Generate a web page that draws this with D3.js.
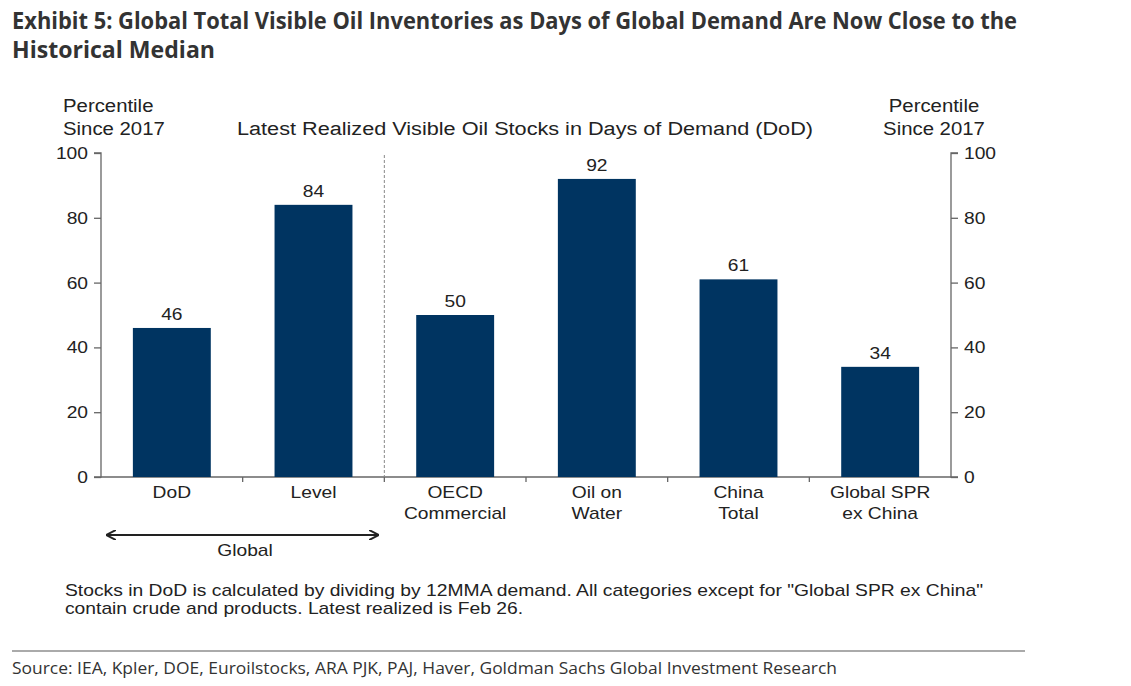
<!DOCTYPE html>
<html>
<head>
<meta charset="utf-8">
<script src="https://cdn.jsdelivr.net/npm/d3@7"></script>
<style>
  body { margin: 0; background: #fff; }
  text { font-family: "Liberation Sans", Arial, sans-serif; fill: #222; }
  .title, .source { font-family: "Open Sans", "Noto Sans", sans-serif; }
</style>
</head>
<body>
<div id="chart"></div>
<script>
// data
const categories = ["DoD", "Level", "OECD\nCommercial", "Oil on\nWater", "China\nTotal", "Global SPR\nex China"];
const values = [46, 84, 50, 92, 61, 34];
const yTicks = [0, 20, 40, 60, 80, 100];

const width = 1131;
const height = 686;
const margin = { top: 153, right: 180, bottom: 209, left: 101 };
const innerW = width - margin.left - margin.right;
const innerH = height - margin.top - margin.bottom;
const STRETCH = 1.13; // reference text is a bit wider than Liberation Sans

const svg = d3.select("#chart")
  .append("svg")
  .attr("width", width)
  .attr("height", height);

// Title
svg.append("text").attr("class", "title")
  .attr("x", 12).attr("y", 29)
  .attr("font-size", 22.5).attr("font-weight", 700)
  .attr("textLength", 1005).attr("lengthAdjust", "spacingAndGlyphs")
  .style("fill", "#333")
  .text("Exhibit 5: Global Total Visible Oil Inventories as Days of Global Demand Are Now Close to the");
svg.append("text").attr("class", "title")
  .attr("x", 12).attr("y", 58)
  .attr("font-size", 22.5).attr("font-weight", 700)
  .attr("textLength", 203).attr("lengthAdjust", "spacingAndGlyphs")
  .style("fill", "#333")
  .text("Historical Median");

const g = svg.append("g")
  .attr("transform", `translate(${margin.left},${margin.top})`);

const x = d3.scaleBand()
  .domain(categories)
  .range([0, innerW])
  .paddingInner(0.45)
  .paddingOuter(0.225);

const y = d3.scaleLinear()
  .domain([0, 100])
  .range([innerH, 0]);

// Left axis
const yLeft = g.append("g")
  .call(d3.axisLeft(y).tickValues(yTicks).tickSize(7).tickPadding(6));
// Right axis
const yRight = g.append("g")
  .attr("transform", `translate(${innerW},0)`)
  .call(d3.axisRight(y).tickValues(yTicks).tickSize(7).tickPadding(6));

[yLeft, yRight].forEach(a => {
  a.select(".domain").attr("stroke", "#666").attr("stroke-width", 1.3);
  a.selectAll(".tick line").attr("stroke", "#666").attr("stroke-width", 1.3);
  a.selectAll(".tick text")
    .attr("font-size", 17)
    .attr("font-family", "Liberation Sans, Arial, sans-serif")
    .attr("fill", "#222")
    .classed("st", true);
});
yLeft.select(".domain").attr("d", `M-7,0H0V${innerH}H-7`);
yRight.select(".domain").attr("d", `M7,0H0V${innerH}H7`);

// Bottom axis line with ticks between categories
const gap = x.step() - x.bandwidth();
g.append("line")
  .attr("x1", 0).attr("x2", innerW)
  .attr("y1", innerH).attr("y2", innerH)
  .attr("stroke", "#666").attr("stroke-width", 1.3);
g.selectAll(".sep-tick")
  .data(categories.slice(1))
  .enter().append("line")
  .attr("x1", d => x(d) - gap / 2)
  .attr("x2", d => x(d) - gap / 2)
  .attr("y1", innerH).attr("y2", innerH + 5)
  .attr("stroke", "#666").attr("stroke-width", 1.3);

// Dashed divider between Global and others
const divX = x("OECD\nCommercial") - gap / 2;
g.append("line")
  .attr("x1", divX).attr("x2", divX)
  .attr("y1", 2).attr("y2", innerH)
  .attr("stroke", "#888").attr("stroke-width", 1)
  .attr("stroke-dasharray", "3,2");

// Bars
g.selectAll(".bar")
  .data(values)
  .enter().append("rect")
  .attr("x", (d, i) => x(categories[i]))
  .attr("y", d => y(d))
  .attr("width", x.bandwidth())
  .attr("height", d => innerH - y(d))
  .attr("fill", "#003461");

// Value labels
g.selectAll(".val")
  .data(values)
  .enter().append("text")
  .attr("class", "st")
  .attr("x", (d, i) => x(categories[i]) + x.bandwidth() / 2)
  .attr("y", d => y(d) - 8)
  .attr("text-anchor", "middle")
  .attr("font-size", 17)
  .text(d => d);

// Category labels
categories.forEach(c => {
  c.split("\n").forEach((line, i) => {
    g.append("text").attr("class", "st")
      .attr("x", x(c) + x.bandwidth() / 2)
      .attr("y", innerH + 21 + i * 21)
      .attr("text-anchor", "middle")
      .attr("font-size", 17)
      .text(line);
  });
});

// Axis titles
const axisTitle = (cx, lines, anchor) => {
  lines.forEach((l, i) => svg.append("text").attr("class", "st")
    .attr("x", cx).attr("y", 112 + i * 23)
    .attr("text-anchor", anchor).attr("font-size", 18)
    .text(l));
};
axisTitle(63, ["Percentile", "Since 2017"], "start");
axisTitle(934, ["Percentile", "Since 2017"], "middle");

svg.append("text")
  .attr("x", 525).attr("y", 135)
  .attr("text-anchor", "middle").attr("font-size", 18)
  .attr("textLength", 576).attr("lengthAdjust", "spacingAndGlyphs")
  .text("Latest Realized Visible Oil Stocks in Days of Demand (DoD)");

// Global arrow
const defs = svg.append("defs");
defs.append("marker")
  .attr("id", "ah").attr("viewBox", "0 0 10 10")
  .attr("refX", 9).attr("refY", 5)
  .attr("markerWidth", 5).attr("markerHeight", 5)
  .attr("orient", "auto-start-reverse")
  .append("path").attr("d", "M0,0L10,5L0,10").attr("fill", "none")
  .attr("stroke", "#222").attr("stroke-width", 2);
svg.append("line")
  .attr("x1", 107).attr("x2", 378)
  .attr("y1", 535).attr("y2", 535)
  .attr("stroke", "#222").attr("stroke-width", 2)
  .attr("marker-start", "url(#ah)").attr("marker-end", "url(#ah)");
svg.append("text").attr("class", "st")
  .attr("x", 245).attr("y", 556)
  .attr("text-anchor", "middle").attr("font-size", 17)
  .text("Global");

// Footnote
svg.append("text").attr("x", 65).attr("y", 596).attr("font-size", 17)
  .attr("textLength", 918).attr("lengthAdjust", "spacingAndGlyphs")
  .text("Stocks in DoD is calculated by dividing by 12MMA demand. All categories except for \"Global SPR ex China\"");
svg.append("text").attr("x", 65).attr("y", 614).attr("font-size", 17)
  .attr("textLength", 458).attr("lengthAdjust", "spacingAndGlyphs")
  .text("contain crude and products. Latest realized is Feb 26.");

// Source
svg.append("line")
  .attr("x1", 12).attr("x2", 1025)
  .attr("y1", 651).attr("y2", 651)
  .attr("stroke", "#aaa").attr("stroke-width", 2);
svg.append("text").attr("class", "source")
  .attr("x", 12).attr("y", 674).attr("font-size", 17)
  .attr("textLength", 825).attr("lengthAdjust", "spacingAndGlyphs")
  .style("fill", "#333")
  .text("Source: IEA, Kpler, DOE, Euroilstocks, ARA PJK, PAJ, Haver, Goldman Sachs Global Investment Research");

// widen the Arial-like labels to match the reference
svg.selectAll("text.st").each(function () {
  const len = this.getComputedTextLength();
  d3.select(this).attr("textLength", len * STRETCH).attr("lengthAdjust", "spacingAndGlyphs");
});
</script>
</body>
</html>
